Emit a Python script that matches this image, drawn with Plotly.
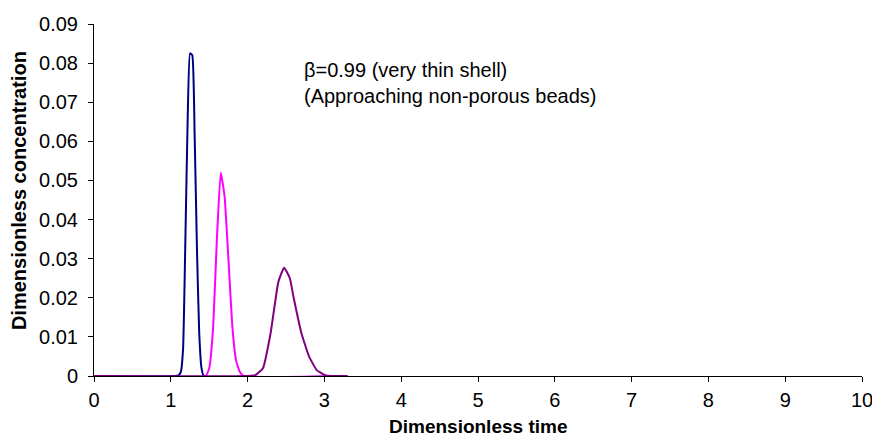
import plotly.graph_objects as go

# Data
navy_t = [0.0, 1.05, 1.10, 1.13, 1.16, 1.19, 1.22, 1.25, 1.28, 1.31, 1.34, 1.37, 1.40, 1.43, 3.3]
navy_c = [0.0, 0.0, 0.0002, 0.001, 0.007, 0.035, 0.066, 0.0825, 0.082, 0.062, 0.033, 0.011, 0.002, 0.0, 0.0]

magenta_t = [0.0, 1.45, 1.50, 1.55, 1.60, 1.65, 1.70, 1.75, 1.80, 1.85, 1.90, 1.95, 3.3]
magenta_c = [0.0, 0.0, 0.002, 0.012, 0.035, 0.052, 0.046, 0.030, 0.013, 0.004, 0.001, 0.0, 0.0]

purple_t = [0.0, 2.0, 2.1, 2.2, 2.3, 2.4, 2.475, 2.55, 2.6, 2.7, 2.8, 2.9, 3.0, 3.1, 3.3]
purple_c = [0.0, 0.0, 0.0002, 0.002, 0.011, 0.024, 0.0277, 0.025, 0.020, 0.011, 0.005, 0.0015, 0.0003, 0.0, 0.0]

x_ticks = [0, 1, 2, 3, 4, 5, 6, 7, 8, 9, 10]
y_ticks = [0, 0.01, 0.02, 0.03, 0.04, 0.05, 0.06, 0.07, 0.08, 0.09]
y_ticktext = ["0", "0.01", "0.02", "0.03", "0.04", "0.05", "0.06", "0.07", "0.08", "0.09"]

FONT = "Liberation Sans, Arial, sans-serif"
FS = 20

fig = go.Figure()
for t, c, col in [(navy_t, navy_c, "#000080"),
                  (magenta_t, magenta_c, "#FF00FF"),
                  (purple_t, purple_c, "#800080")]:
    fig.add_trace(go.Scatter(x=t, y=c, mode="lines",
                             line=dict(color=col, width=2, shape="spline", smoothing=0.4),
                             showlegend=False, hoverinfo="skip"))

axis_common = dict(showline=True, linecolor="black", linewidth=1, ticks="outside",
                   ticklen=5, tickcolor="black", showgrid=False, zeroline=False,
                   ticklabeloverflow="allow", automargin=False,
                   tickfont=dict(family=FONT, size=FS, color="black"))

fig.update_xaxes(range=[0, 10], tickvals=x_ticks, ticklabelstandoff=1, **axis_common)
fig.update_yaxes(range=[0, 0.09], tickvals=y_ticks, ticktext=y_ticktext,
                 ticklabelstandoff=6, **axis_common)

fig.update_layout(
    width=872, height=438,
    margin=dict(l=94, r=10, t=24, b=62),
    paper_bgcolor="white", plot_bgcolor="white",
    font=dict(family=FONT, size=FS, color="black"),
    annotations=[
        dict(text="<b>Dimensionless time</b>", xref="paper", yref="paper",
             x=0.5, y=-0.176, xanchor="center", yanchor="bottom",
             showarrow=False, borderpad=0, font=dict(family=FONT, size=19)),
        dict(text="<b>Dimensionless concentration</b>", xref="paper", yref="paper",
             x=-0.0977, y=0.528, xanchor="center", yanchor="middle", textangle=-90,
             showarrow=False, font=dict(family=FONT, size=FS)),
        dict(text="β=0.99 (very thin shell)", xref="paper", yref="paper",
             x=0.271, y=0.869, xanchor="left", yanchor="middle",
             showarrow=False, font=dict(family=FONT, size=FS)),
        dict(text="(Approaching non-porous beads)", xref="paper", yref="paper",
             x=0.271, y=0.795, xanchor="left", yanchor="middle",
             showarrow=False, font=dict(family=FONT, size=FS)),
    ],
)

fig.write_html("out.html")
